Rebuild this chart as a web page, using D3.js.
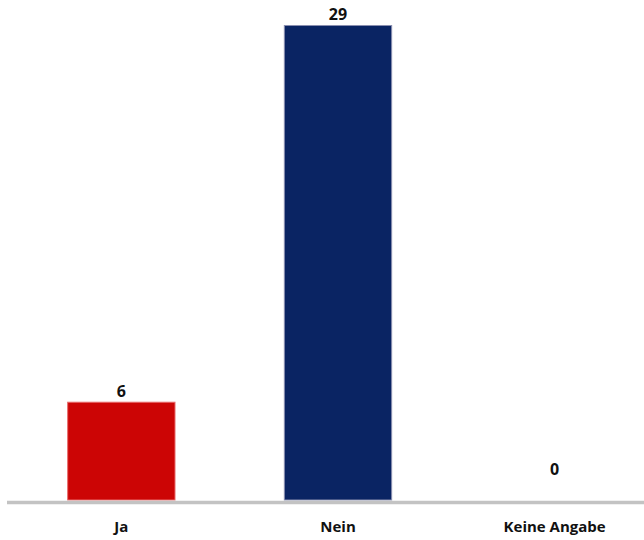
<!DOCTYPE html>
<html><head><meta charset="utf-8">
<script src="https://cdn.jsdelivr.net/npm/d3@7"></script>
<style>body{margin:0;background:#fff}svg{display:block}</style>
</head><body>
<svg id="c" width="644" height="540"></svg>
<script>
const categories = ["Ja", "Nein", "Keine Angabe"];
const values = [6, 29, 0];
const colors = ["#cc0505", "#0a2463", "#888888"];
const strokes = ["#e86a6a", "#8a8fb0", "#888888"];

const svg = d3.select("#c");
const x = d3.scaleBand().domain(categories).range([13, 663]).paddingInner(0.5).paddingOuter(0.25);
const y = d3.scaleLinear().domain([0, 29]).range([500, 25]);
const font = "'Open Sans', sans-serif";

svg.selectAll("rect.bar").data(values).enter().append("rect")
  .attr("class", "bar")
  .attr("x", (d, i) => x(categories[i]) + 0.5)
  .attr("y", d => y(d) + 0.5)
  .attr("width", x.bandwidth() - 1)
  .attr("height", d => Math.max(0, y(0) - y(d) - 0.5))
  .attr("fill", (d, i) => colors[i])
  .attr("stroke", (d, i) => strokes[i])
  .attr("stroke-width", 1)
  .style("display", d => d > 0 ? null : "none");

svg.append("line").attr("x1", 7).attr("x2", 644).attr("y1", 502.5).attr("y2", 502.5)
  .attr("stroke", "#c3c3c3").attr("stroke-width", 3.5);

svg.selectAll("text.val").data(values).enter().append("text")
  .attr("class", "val")
  .attr("x", (d, i) => x(categories[i]) + x.bandwidth() / 2)
  .attr("y", d => Math.min(y(d), y(0) - 20) - 5)
  .attr("text-anchor", "middle")
  .attr("font-family", font).attr("font-weight", "bold").attr("font-size", 16)
  .attr("fill", "#111")
  .text(d => d);

const xAxis = svg.append("g").attr("transform", "translate(0,504)")
  .call(d3.axisBottom(x).tickSize(0).tickPadding(0));
xAxis.select(".domain").remove();
xAxis.selectAll("text")
  .attr("dy", 0).attr("y", 28)
  .attr("font-family", font).attr("font-weight", "bold").attr("font-size", 15)
  .attr("fill", "#111");
</script>
</body></html>
